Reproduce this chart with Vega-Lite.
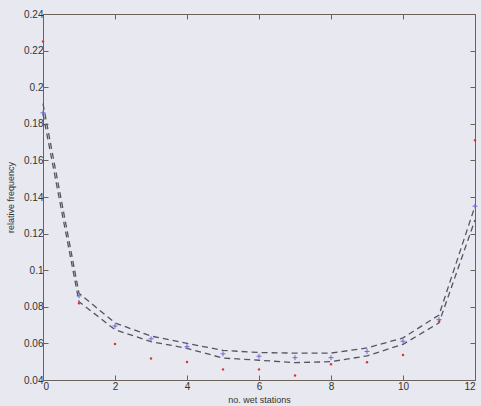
{
  "$schema": "https://vega.github.io/schema/vega-lite/v6.json",
  "width": 432,
  "height": 366,
  "autosize": "none",
  "padding": {"left": 43, "top": 14, "right": 6, "bottom": 26},
  "background": "#e7e8f0",
  "config": {
    "view": {"stroke": "#6e6258", "strokeWidth": 1},
    "font": "Liberation Sans",
    "axis": {"domain": false, "grid": false, "tickColor": "#6e6258", "tickSize": -5, "labelFont": "Liberation Sans", "labelFontSize": 10, "labelColor": "#333", "titleFont": "Liberation Sans", "titleFontSize": 9, "titleFontWeight": "normal", "titleColor": "#333"}
  },
  "data": {"values": [
    {"x": 0, "upper": 0.191, "lower": 0.1855, "model": 0.186, "obs": 0.225},
    {"x": 1, "upper": 0.0874, "lower": 0.0828, "model": 0.086, "obs": 0.0819},
    {"x": 2, "upper": 0.0712, "lower": 0.0675, "model": 0.0695, "obs": 0.0597},
    {"x": 3, "upper": 0.0640, "lower": 0.0610, "model": 0.0625, "obs": 0.0517},
    {"x": 4, "upper": 0.0600, "lower": 0.0573, "model": 0.0582, "obs": 0.0498},
    {"x": 5, "upper": 0.0562, "lower": 0.0520, "model": 0.0543, "obs": 0.0458},
    {"x": 6, "upper": 0.0550, "lower": 0.0508, "model": 0.0530, "obs": 0.0458},
    {"x": 7, "upper": 0.0547, "lower": 0.0495, "model": 0.0522, "obs": 0.0425},
    {"x": 8, "upper": 0.0547, "lower": 0.0500, "model": 0.0522, "obs": 0.0486},
    {"x": 9, "upper": 0.0575, "lower": 0.0532, "model": 0.0556, "obs": 0.0497},
    {"x": 10, "upper": 0.0630, "lower": 0.0595, "model": 0.0612, "obs": 0.0537},
    {"x": 11, "upper": 0.0755, "lower": 0.0712, "model": 0.0730, "obs": 0.0719},
    {"x": 12, "upper": 0.1350, "lower": 0.1275, "model": 0.1350, "obs": 0.1710}
  ]},
  "layer": [
    {
      "mark": {"type": "line", "color": "#55545f", "strokeWidth": 1.3, "strokeDash": [6, 4]},
      "encoding": {
        "x": {"field": "x", "type": "quantitative", "scale": {"domain": [0, 12], "nice": false, "zero": false}, "axis": {"values": [0,2,4,6,8,10,12], "title": "no. wet stations", "titlePadding": 4, "labelPadding": 6}},
        "y": {"field": "upper", "type": "quantitative", "scale": {"domain": [0.04, 0.24], "nice": false, "zero": false}, "axis": {"values": [0.04,0.06,0.08,0.1,0.12,0.14,0.16,0.18,0.2,0.22,0.24], "format": "~g", "title": "relative frequency", "titlePadding": 8, "labelPadding": 5}}
      }
    },
    {
      "mark": {"type": "line", "color": "#55545f", "strokeWidth": 1.3, "strokeDash": [6, 4]},
      "encoding": {
        "x": {"field": "x", "type": "quantitative", "axis": {"orient": "top", "values": [0,2,4,6,8,10,12], "labels": false, "title": null}},
        "y": {"field": "lower", "type": "quantitative", "axis": {"orient": "right", "values": [0.04,0.06,0.08,0.1,0.12,0.14,0.16,0.18,0.2,0.22,0.24], "labels": false, "title": null}}
      }
    },
    {
      "mark": {"type": "point", "shape": "M-1,0L1,0M0,-1L0,1", "size": 25, "stroke": "#6a6ad8", "strokeWidth": 1, "filled": false, "opacity": 1},
      "encoding": {
        "x": {"field": "x", "type": "quantitative", "axis": null},
        "y": {"field": "model", "type": "quantitative", "axis": null}
      }
    },
    {
      "mark": {"type": "circle", "size": 6, "color": "#d8353a", "opacity": 1},
      "encoding": {
        "x": {"field": "x", "type": "quantitative", "axis": null},
        "y": {"field": "obs", "type": "quantitative", "axis": null}
      }
    }
  ],
  "resolve": {"axis": {"x": "independent", "y": "independent"}}
}
